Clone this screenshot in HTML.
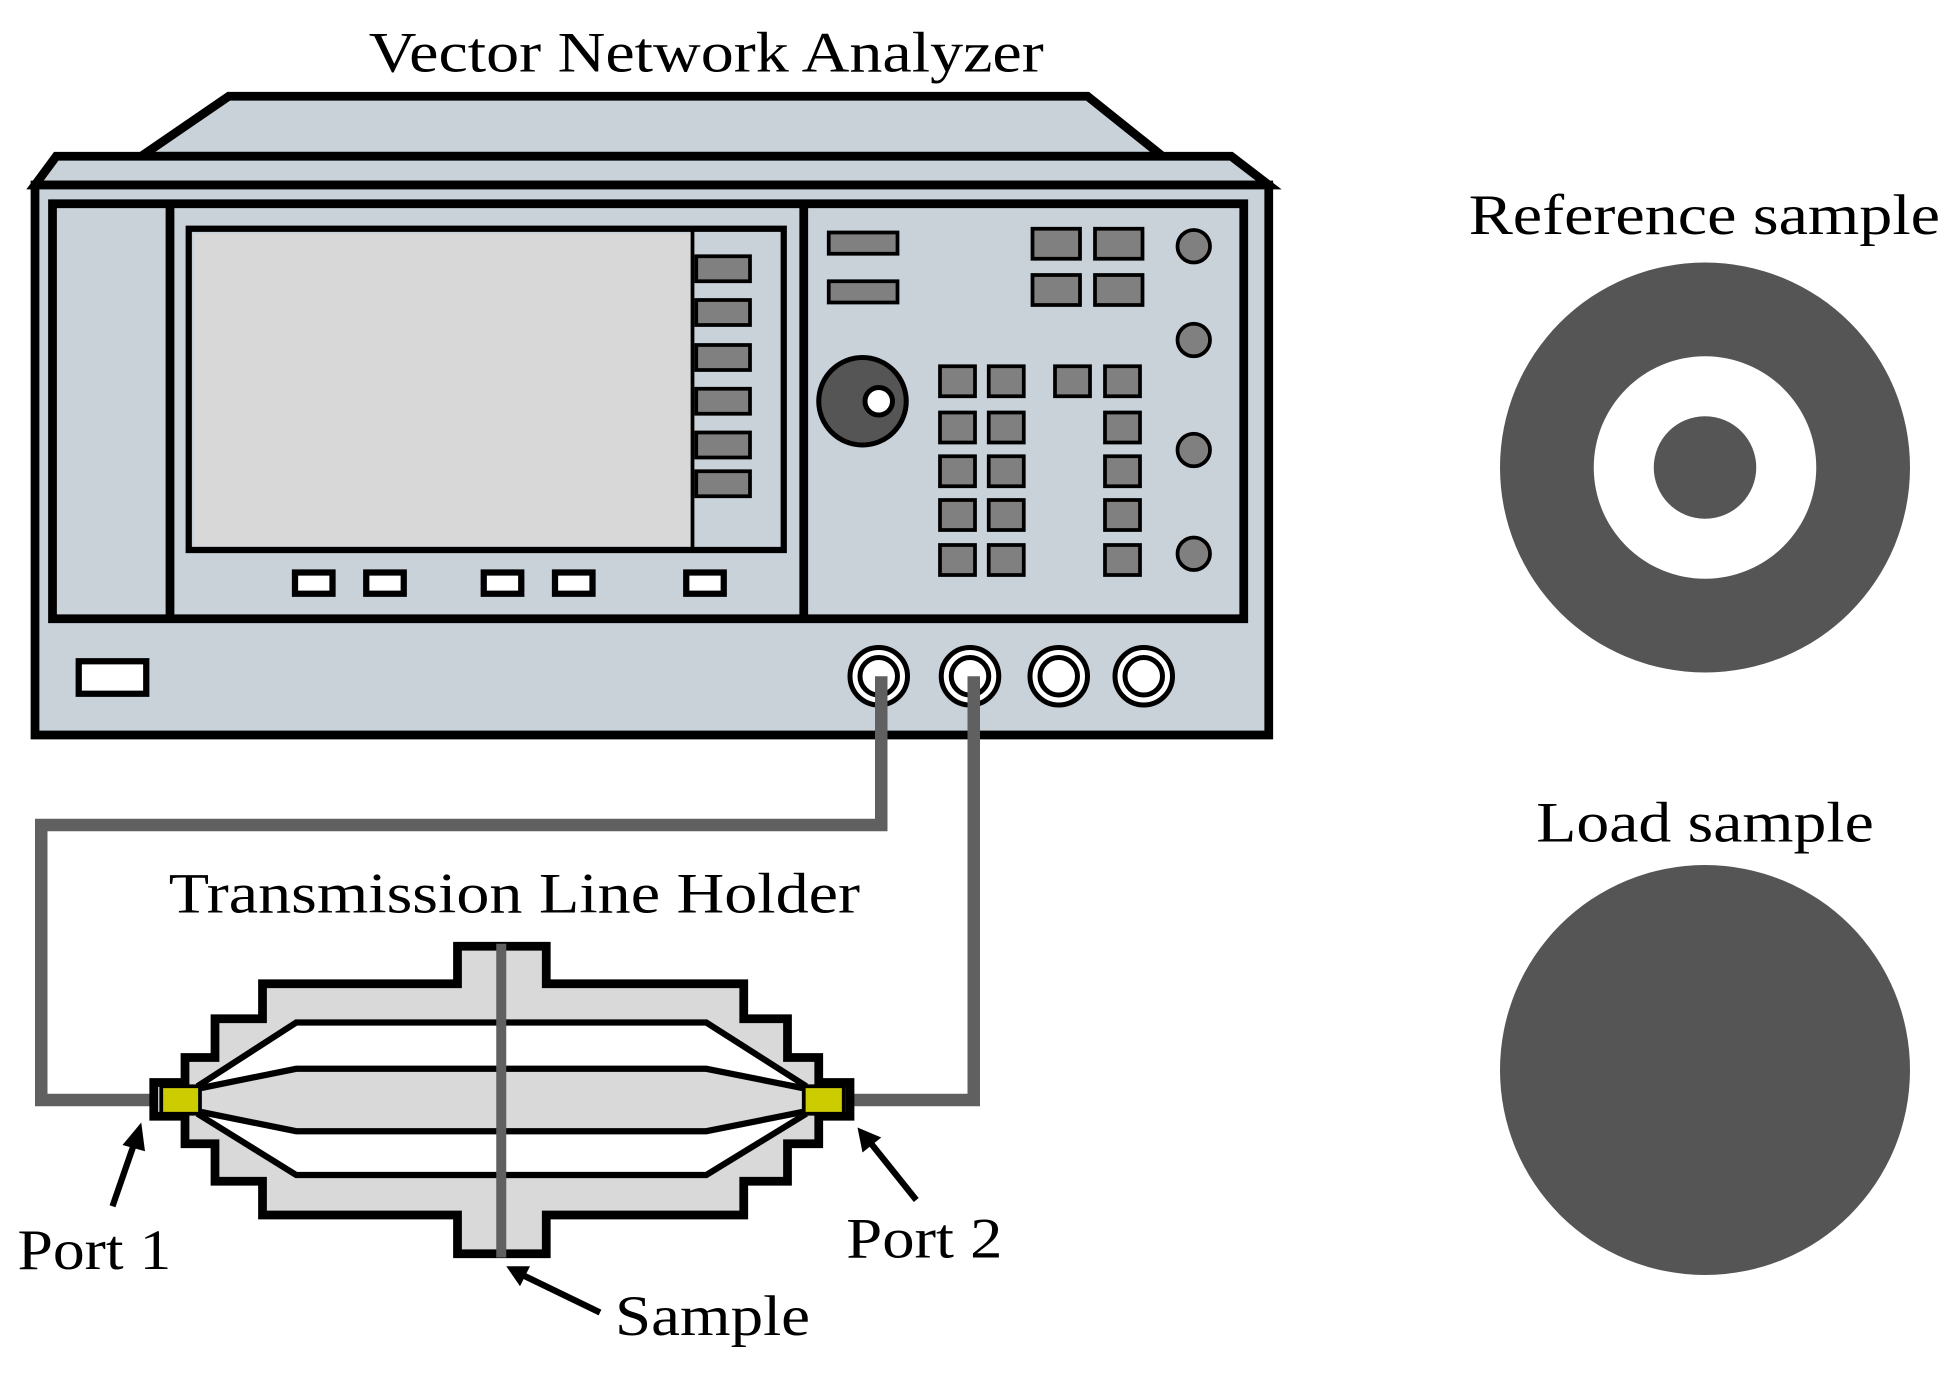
<!DOCTYPE html>
<html><head><meta charset="utf-8"><style>html,body{margin:0;padding:0;background:#fff}svg{display:block}text{font-family:"Liberation Serif","Times New Roman",Times,serif}</style></head>
<body>
<svg width="1960" height="1379" viewBox="0 0 1568 1103.2" xmlns="http://www.w3.org/2000/svg">
<rect width="1568" height="1104" fill="#fff"/>
<g font-size="46" fill="#000">
<text x="295" y="57" textLength="540" lengthAdjust="spacingAndGlyphs">Vector Network Analyzer</text>
<text x="135" y="730" textLength="553" lengthAdjust="spacingAndGlyphs">Transmission Line Holder</text>
<text x="14" y="1015" textLength="123" lengthAdjust="spacingAndGlyphs">Port 1</text>
<text x="677" y="1006" textLength="125" lengthAdjust="spacingAndGlyphs">Port 2</text>
<text x="492" y="1068" textLength="156" lengthAdjust="spacingAndGlyphs">Sample</text>
<text x="1175" y="187" textLength="377" lengthAdjust="spacingAndGlyphs">Reference sample</text>
<text x="1229" y="673" textLength="270" lengthAdjust="spacingAndGlyphs">Load sample</text>
</g>
<!-- VNA -->
<g stroke="#000" stroke-width="7" stroke-linejoin="miter" fill="#c9d1d9">
<polygon points="113,125 183,77 870,77 930,125"/>
<polygon points="28,148 45,125 985,125 1015,148"/>
<rect x="28" y="148" width="987" height="440"/>
<rect x="42" y="163" width="953" height="332"/>
<line x1="136" y1="163" x2="136" y2="495"/>
<line x1="643" y1="163" x2="643" y2="495"/>
<rect x="151" y="183" width="476" height="257" stroke-width="5"/>
</g>
<rect x="155" y="187" width="398" height="250" fill="#d8d8d8"/>
<line x1="554" y1="185" x2="554" y2="438" stroke="#000" stroke-width="3"/>
<g fill="#808080" stroke="#000" stroke-width="3">
<rect x="557" y="205" width="43" height="20"/><rect x="557" y="240" width="43" height="20"/>
<rect x="557" y="276" width="43" height="20"/><rect x="557" y="311" width="43" height="20"/>
<rect x="557" y="346" width="43" height="20"/><rect x="557" y="377" width="43" height="20"/>
<rect x="663" y="186" width="55" height="17"/><rect x="663" y="225" width="55" height="17"/>
<rect x="826" y="183" width="38" height="24"/><rect x="876" y="183" width="38" height="24"/>
<rect x="826" y="220" width="38" height="24"/><rect x="876" y="220" width="38" height="24"/>
<circle cx="955" cy="197" r="13"/><circle cx="955" cy="272" r="13"/><circle cx="955" cy="360" r="13"/><circle cx="955" cy="443" r="13"/>
<rect x="752" y="293" width="28" height="24"/><rect x="791" y="293" width="28" height="24"/><rect x="844" y="293" width="28" height="24"/><rect x="884" y="293" width="28" height="24"/>
<rect x="752" y="330" width="28" height="24"/><rect x="791" y="330" width="28" height="24"/><rect x="884" y="330" width="28" height="24"/>
<rect x="752" y="365" width="28" height="24"/><rect x="791" y="365" width="28" height="24"/><rect x="884" y="365" width="28" height="24"/>
<rect x="752" y="400" width="28" height="24"/><rect x="791" y="400" width="28" height="24"/><rect x="884" y="400" width="28" height="24"/>
<rect x="752" y="436" width="28" height="24"/><rect x="791" y="436" width="28" height="24"/><rect x="884" y="436" width="28" height="24"/>
</g>
<g fill="#fff" stroke="#000" stroke-width="5">
<rect x="236" y="458" width="30" height="17"/><rect x="293" y="458" width="30" height="17"/>
<rect x="387" y="458" width="30" height="17"/><rect x="444" y="458" width="30" height="17"/>
<rect x="549" y="458" width="30" height="17"/>
<rect x="63" y="529" width="54" height="26"/>
</g>
<circle cx="690" cy="321" r="35" fill="#555" stroke="#000" stroke-width="4"/>
<circle cx="703" cy="321" r="11" fill="#fff" stroke="#000" stroke-width="4"/>
<g fill="#fff" stroke="#000" stroke-width="4">
<circle cx="703" cy="541" r="23"/><circle cx="703" cy="541" r="15"/>
<circle cx="776" cy="541" r="23"/><circle cx="776" cy="541" r="15"/>
<circle cx="847" cy="541" r="23"/><circle cx="847" cy="541" r="15"/>
<circle cx="915" cy="541" r="23"/><circle cx="915" cy="541" r="15"/>
</g>
<!-- cables -->
<g fill="none" stroke="#606060" stroke-width="10">
<polyline points="705,541 705,660 33,660 33,880 125,880"/>
<polyline points="779,541 779,880 678,880"/>
</g>
<!-- holder -->
<polygon fill="#d9d9d9" stroke="#000" stroke-width="7" points="366,757 437,757 437,787 595,787 595,815 630,815 630,846 655,846 655,866 680,866 680,893 655,893 655,915 630,915 630,945 595,945 595,972 437,972 437,1003 366,1003 366,972 210,972 210,945 172,945 172,915 148,915 148,893 123,893 123,866 148,866 148,846 172,846 172,815 210,815 210,787 366,787"/>
<polygon fill="#fff" points="158,869 237,818 565,818 645,869 565,855 237,855"/>
<polygon fill="#fff" points="158,891 237,905 565,905 645,891 565,940 237,940"/>
<g fill="none" stroke="#000" stroke-width="5">
<polyline points="158,869 237,818 565,818 645,869"/>
<polyline points="158,871 237,855 565,855 645,871"/>
<polyline points="158,889 237,905 565,905 645,889"/>
<polyline points="158,891 237,940 565,940 645,891"/>
</g>
<rect x="129" y="869" width="31" height="22" fill="#cccc00" stroke="#000" stroke-width="3"/>
<rect x="643" y="869" width="32" height="22" fill="#cccc00" stroke="#000" stroke-width="3"/>
<line x1="401" y1="755" x2="401" y2="1006" stroke="#606060" stroke-width="8"/>
<!-- arrows -->
<g stroke="#000" stroke-width="5">
<line x1="90" y1="965" x2="108" y2="913"/>
<line x1="733" y1="960" x2="697" y2="915"/>
<line x1="480" y1="1050" x2="418" y2="1020"/>
</g>
<g fill="#000">
<polygon points="113,898 98,916 116,921"/>
<polygon points="686,902 690,922 705,910"/>
<polygon points="405,1013 416,1029 424,1013"/>
</g>
<!-- samples -->
<circle cx="1364" cy="374" r="164" fill="#555"/>
<circle cx="1364" cy="374" r="89" fill="#fff"/>
<circle cx="1364" cy="374" r="41" fill="#555"/>
<circle cx="1364" cy="856" r="164" fill="#555"/>
</svg>
</body></html>
